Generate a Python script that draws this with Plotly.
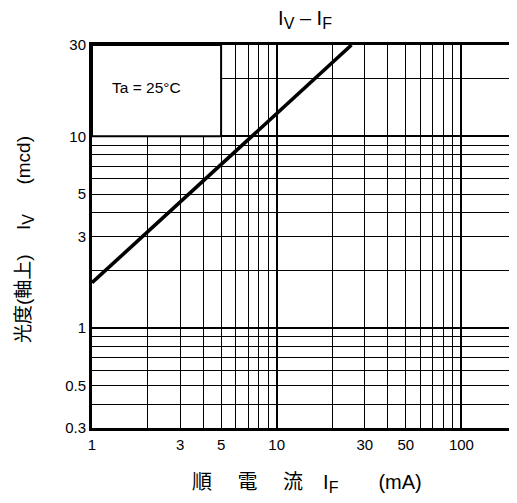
import math
import plotly.graph_objects as go

# ---- data ----
forward_current_mA = [1, 25.4]          # I_F
luminous_intensity_mcd = [1.72, 30]     # I_V

x_tick_vals = [1, 3, 5, 10, 30, 50, 100]
x_tick_text = ["1", "3", "5", "10", "30", "50", "100"]
y_tick_vals = [0.3, 0.5, 1, 3, 5, 10, 30]
y_tick_text = ["0.3", "0.5", "1", "3", "5", "10", "30"]

x_minor_grid = [2, 3, 4, 5, 6, 7, 8, 9, 20, 30, 40, 50, 60, 70, 80, 90]
y_minor_grid = [0.4, 0.5, 0.6, 0.7, 0.8, 0.9, 2, 3, 4, 5, 6, 7, 8, 9, 20]
x_major_grid = [10, 100]
y_major_grid = [1, 10]

x_range = [1, 200]
y_range = [0.3, 30]

inset_x = [1, 5]
inset_y = [10, 30]
inset_text = "Ta = 25°C"

FONT = "Liberation Sans, Arial, Noto Sans CJK JP, sans-serif"

# the page body has an 8px margin; the figure is sized to fit the rest
OFF = 8
W, H = 517 - OFF, 503 - 2 * OFF
PL, PT = 92 - OFF, 45 - OFF
PB = H - (428 - OFF)
PW = W - PL
PH = H - PT - PB

fig = go.Figure()

fig.add_trace(go.Scatter(
    x=forward_current_mA, y=luminous_intensity_mcd, mode="lines",
    line=dict(color="black", width=3.6), hoverinfo="skip", showlegend=False,
    xaxis="x", yaxis="y"))
# invisible helper traces so that the overlay axes (thick decade grid) are drawn
fig.add_trace(go.Scatter(
    x=forward_current_mA, y=luminous_intensity_mcd, mode="lines", opacity=0,
    line=dict(width=0), hoverinfo="skip", showlegend=False, xaxis="x2", yaxis="y"))
fig.add_trace(go.Scatter(
    x=forward_current_mA, y=luminous_intensity_mcd, mode="lines", opacity=0,
    line=dict(width=0), hoverinfo="skip", showlegend=False, xaxis="x", yaxis="y2"))

lx = [math.log10(v) for v in x_range]
ly = [math.log10(v) for v in y_range]


def xfrac(v):
    return (math.log10(v) - lx[0]) / (lx[1] - lx[0])


def yfrac(v):
    return (math.log10(v) - ly[0]) / (ly[1] - ly[0])


def page_x(px):
    return (px - OFF - PL) / PW


def page_y(py):
    return 1 - (py - OFF - PT) / PH


fig.update_layout(
    width=W, height=H,
    margin=dict(l=PL, r=0, t=PT, b=PB, autoexpand=False),
    paper_bgcolor="white", plot_bgcolor="white",
    font=dict(family=FONT, color="black", size=15),
    showlegend=False,
    title=dict(text="I<sub><span style='font-size:16px'>V</span></sub> – "
                    "I<sub><span style='font-size:16px'>F</span></sub>",
               x=page_x(305), xref="paper",
               xanchor="center", y=1 - (18 - OFF) / H, yref="container", yanchor="middle",
               automargin=False, font=dict(size=20, family=FONT)),
    xaxis=dict(type="log", range=lx, tickmode="array", tickvals=x_tick_vals,
               ticktext=x_tick_text, ticks="", showgrid=False, zeroline=False,
               showline=True, linecolor="black", linewidth=3, mirror=True,
               automargin=False, ticklabelstandoff=1, tickfont=dict(size=15),
               minor=dict(tickmode="array", tickvals=x_minor_grid, showgrid=True,
                          gridcolor="black", gridwidth=1, ticks="")),
    yaxis=dict(type="log", range=ly, tickmode="array", tickvals=y_tick_vals,
               ticktext=y_tick_text, ticks="", showgrid=False, zeroline=False,
               showline=True, linecolor="black", linewidth=3, mirror=False,
               automargin=False, ticklabelstandoff=0, tickfont=dict(size=15),
               minor=dict(tickmode="array", tickvals=y_minor_grid, showgrid=True,
                          gridcolor="black", gridwidth=1, ticks="")),
    xaxis2=dict(type="log", range=lx, overlaying="x", anchor="y", tickmode="array",
                tickvals=x_major_grid, showticklabels=False, ticks="",
                showgrid=True, gridcolor="black", gridwidth=2, zeroline=False,
                showline=False, automargin=False),
    yaxis2=dict(type="log", range=ly, overlaying="y", anchor="x", tickmode="array",
                tickvals=y_major_grid, showticklabels=False, ticks="",
                showgrid=True, gridcolor="black", gridwidth=2, zeroline=False,
                showline=False, automargin=False),
)

# inset box (no grid inside)
fig.add_shape(type="rect", xref="x domain", yref="y domain",
              x0=xfrac(inset_x[0]), x1=xfrac(inset_x[1]),
              y0=yfrac(inset_y[0]), y1=yfrac(inset_y[1]),
              fillcolor="white", line=dict(color="black", width=2), layer="above")

fig.add_annotation(x=xfrac(1.97), y=yfrac(17.9), xref="x domain", yref="y domain",
                   text=inset_text, showarrow=False, xanchor="center", yanchor="middle",
                   font=dict(size=15.5, family=FONT))

# axis titles
fig.add_annotation(xref="paper", yref="paper", x=page_x(307), y=page_y(483),
                   xanchor="center", yanchor="middle", showarrow=False,
                   text="順\u3000\u00a0電\u3000\u00a0流\u3000I<sub><span style='font-size:16px'>F</span></sub>\u3000\u3000(mA)",
                   font=dict(size=20, family=FONT))
fig.add_annotation(xref="paper", yref="paper", x=page_x(25), y=page_y(240),
                   xanchor="center", yanchor="middle", showarrow=False, textangle=-90,
                   text="光度(軸上)\u3000\u00a0I<sub><span style='font-size:16px'>V</span></sub>\u3000\u00a0\u00a0(mcd)",
                   font=dict(size=19, family=FONT))

fig.write_html("out.html")
